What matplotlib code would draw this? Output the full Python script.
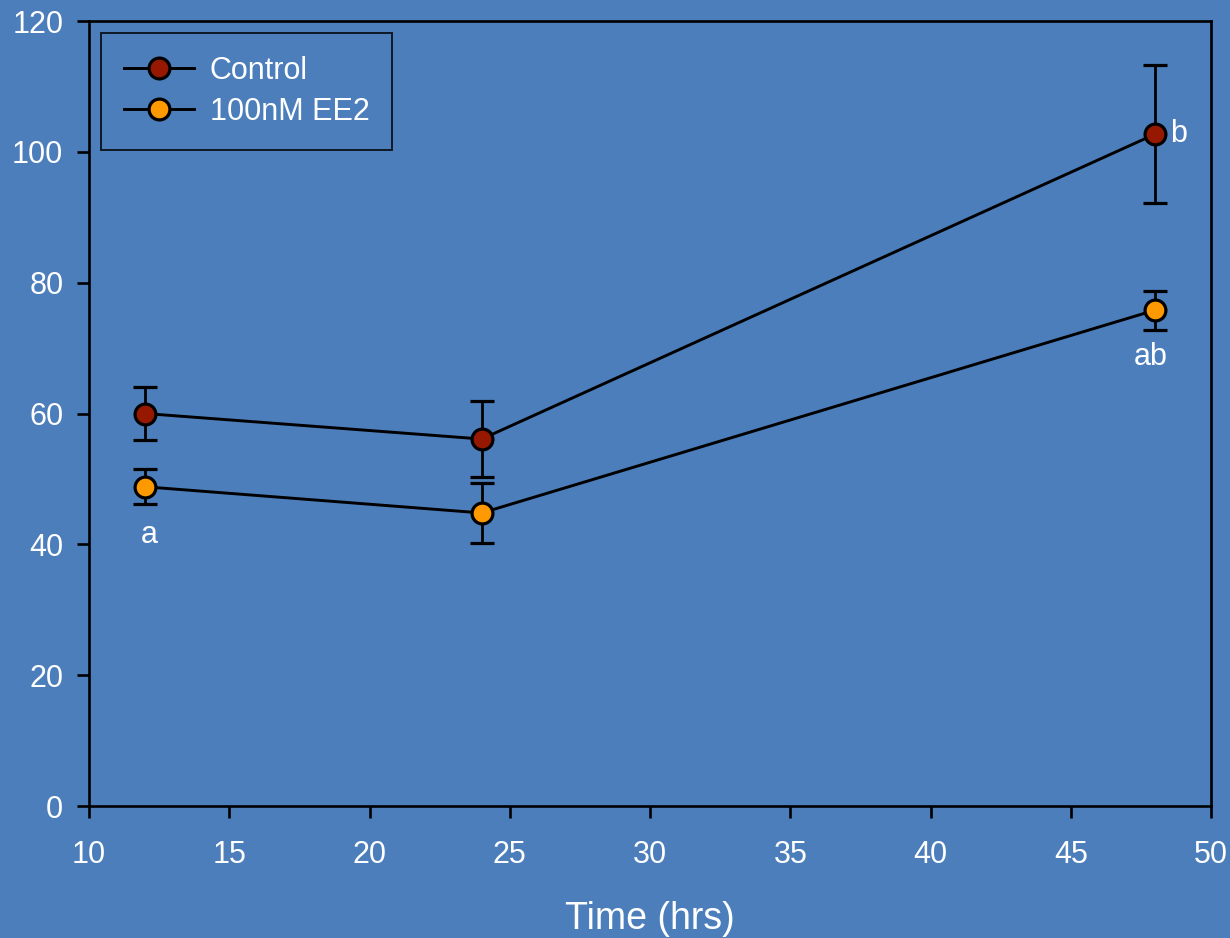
import matplotlib
matplotlib.use("Agg")
import matplotlib.pyplot as plt

# data
time_hrs = [12, 24, 48]
control = [60.0, 56.1, 102.7]
control_err = [4.0, 5.8, 10.5]
ee2 = [48.8, 44.8, 75.8]
ee2_err = [2.7, 4.6, 3.0]
series_names = ["Control", "100nM EE2"]
# significance letters: (series index, point index, text, offset in points)
letters = [(1, 0, "a", (3, -35)), (0, 2, "b", (17, 0)), (1, 2, "ab", (-3, -34))]

bg = "#4c7ebb"
plt.rcParams["font.family"] = ["Liberation Sans", "DejaVu Sans"]

fig = plt.figure(figsize=(12.3, 9.38), dpi=100, facecolor=bg)
ax = fig.add_axes([0.0724, 0.1407, 0.9122, 0.8369])
ax.set_facecolor(bg)

ys = [control, ee2]
errs = [control_err, ee2_err]
colors = ["#961800", "#ff9900"]
handles = []
for y, e, c, name in zip(ys, errs, colors, series_names):
    cont = ax.errorbar(time_hrs, y, yerr=e, color="black", lw=2.1, elinewidth=2.0,
                       capsize=8.5, capthick=2.0, marker="o", ms=15,
                       mfc=c, mec="black", mew=2.3, label=name, zorder=3)
    handles.append(cont.lines[0])

for si, pi, txt, off in letters:
    ax.annotate(txt, (time_hrs[pi], ys[si][pi]), xytext=off,
                textcoords="offset points", ha="center", va="center",
                color="white", fontsize=22)

ax.set_xlim(10, 50)
ax.set_ylim(0, 120)
ax.set_xticks(range(10, 51, 5))
ax.set_yticks(range(0, 121, 20))
for s in ax.spines.values():
    s.set_linewidth(1.9)
    s.set_color("black")
ax.tick_params(direction="out", length=8.5, width=1.9, color="black",
               labelcolor="white", labelsize=22, pad=16)
ax.tick_params(axis="y", pad=10)
ax.set_xlabel("Time (hrs)", color="white", fontsize=27, labelpad=22)

leg = ax.legend(handles=handles, labels=series_names, loc="upper left",
                bbox_to_anchor=(0, 1), borderaxespad=0.4,
                fontsize=22, frameon=True, fancybox=False, handlelength=2.3,
                handletextpad=0.5, borderpad=0.75, labelspacing=0.35)
leg.get_frame().set_facecolor(bg)
leg.get_frame().set_edgecolor("black")
leg.get_frame().set_linewidth(1.4)
for t in leg.get_texts():
    t.set_color("white")

fig.savefig("out.png", dpi=100, facecolor=bg)
